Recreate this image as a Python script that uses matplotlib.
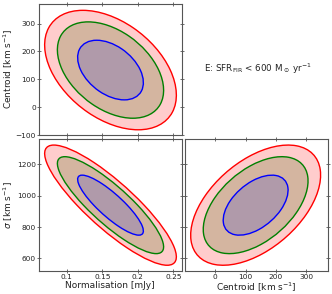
import numpy as np
import matplotlib
matplotlib.use("Agg")
import matplotlib.pyplot as plt
from matplotlib.patches import Ellipse

# Parameter estimates
mean_norm, sd_norm = 0.1615, 0.0305      # mJy
mean_cen, sd_cen = 133.0, 70.6           # km/s
mean_sig, sd_sig = 939.0, 126.0          # km/s
rho_norm_cen = -0.42
rho_norm_sig = -0.86
rho_cen_sig = 0.50

# contour levels: 68, 95, 99 per cent (2 dof)
level_scale = [3.035, 2.448, 1.515]
line_colors = ["red", "green", "blue"]
fill_colors = ["#ffcccc", "#d4b5a0", "#b09aaa"]

norm_lim = (0.061, 0.262)
cen_lim = (-100, 370)
sig_lim = (520, 1360)
norm_ticks = [0.1, 0.15, 0.2, 0.25]
norm_ticklabels = ["0.1", "0.15", "0.2", "0.25"]
cen_ticks = [-100, 0, 100, 200, 300]
cen_ticks_x = [0, 100, 200, 300]
sig_ticks = [600, 800, 1000, 1200]

W, H = 332, 294
fig = plt.figure(figsize=(W / 100, H / 100), dpi=100)

def ax_rect(x0, y0, x1, y1):
    return [x0 / W, 1 - y1 / H, (x1 - x0) / W, (y1 - y0) / H]

ax_tl = fig.add_axes(ax_rect(39, 4, 182, 135))
ax_bl = fig.add_axes(ax_rect(39, 139, 182, 271))
ax_br = fig.add_axes(ax_rect(185, 139, 327.5, 271))

def draw(ax, mx, my, sx, sy, rho):
    cov = np.array([[sx * sx, rho * sx * sy], [rho * sx * sy, sy * sy]])
    vals, vecs = np.linalg.eigh(cov)
    order = vals.argsort()[::-1]
    vals, vecs = vals[order], vecs[:, order]
    ang = np.degrees(np.arctan2(vecs[1, 0], vecs[0, 0]))
    for k, lc, fc in zip(level_scale, line_colors, fill_colors):
        w = 2 * k * np.sqrt(vals[0])
        h = 2 * k * np.sqrt(vals[1])
        ax.add_patch(Ellipse((mx, my), w, h, angle=ang, facecolor=fc,
                             edgecolor=lc, lw=1.0, zorder=2))

draw(ax_tl, mean_norm, mean_cen, sd_norm, sd_cen, rho_norm_cen)
draw(ax_bl, mean_norm, mean_sig, sd_norm, sd_sig, rho_norm_sig)
draw(ax_br, mean_cen, mean_sig, sd_cen, sd_sig, rho_cen_sig)

for ax in (ax_tl, ax_bl, ax_br):
    for s in ax.spines.values():
        s.set_color("#555555")
        s.set_linewidth(0.8)
    ax.tick_params(direction="inout", length=3, width=0.6, color="#555555",
                   labelsize=5.3, pad=0.8, top=True, right=True,
                   labelcolor="#222222")

ax_tl.set_xlim(norm_lim); ax_tl.set_ylim(cen_lim)
ax_tl.set_xticks(norm_ticks); ax_tl.set_xticklabels([])
ax_tl.set_yticks(cen_ticks)
ax_tl.set_ylabel(r"Centroid [km s$^{-1}$]", fontsize=6.5, color="#222222")
ax_tl.yaxis.set_label_coords(15 / W, 1 - 69 / H, transform=fig.transFigure)

ax_bl.set_xlim(norm_lim); ax_bl.set_ylim(sig_lim)
ax_bl.set_xticks(norm_ticks); ax_bl.set_xticklabels(norm_ticklabels)
ax_bl.set_yticks(sig_ticks)
ax_bl.set_xlabel("Normalisation [mJy]", fontsize=6.5, color="#222222")
ax_bl.xaxis.set_label_coords(110 / W, 1 - 281 / H, transform=fig.transFigure)
ax_bl.set_ylabel(r"$\sigma$ [km s$^{-1}$]", fontsize=6.5, color="#222222")
ax_bl.yaxis.set_label_coords(15 / W, 1 - 205 / H, transform=fig.transFigure)

ax_br.set_xlim(cen_lim); ax_br.set_ylim(sig_lim)
ax_br.set_xticks(cen_ticks_x)
ax_br.set_yticks(sig_ticks); ax_br.set_yticklabels([])
ax_br.set_xlabel(r"Centroid [km s$^{-1}$]", fontsize=6.5, color="#222222")
ax_br.xaxis.set_label_coords(256 / W, 1 - 281 / H, transform=fig.transFigure)

fig.text(258 / W, 1 - 69 / H,
         r"E: SFR$_{\rm FIR}$ < 600 M$_\odot$ yr$^{-1}$",
         fontsize=6.3, ha="center", va="center", color="#222222")

fig.savefig("out.png", dpi=100)
